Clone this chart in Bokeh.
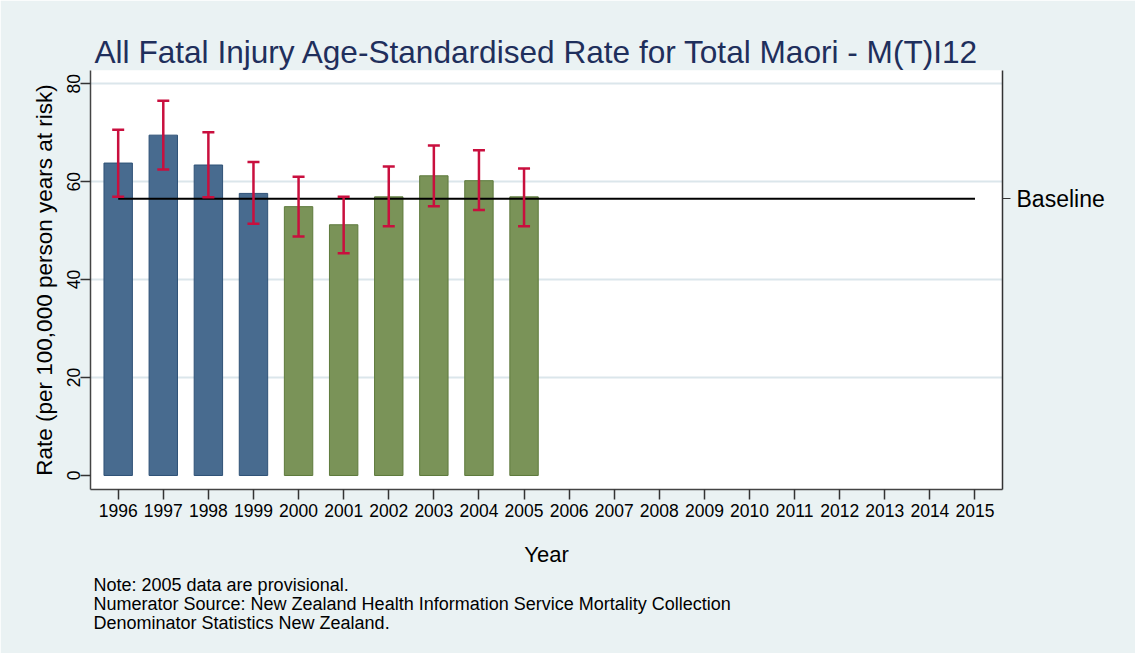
from bokeh.plotting import figure
from bokeh.models import (ColumnDataSource, Whisker, TeeHead, FixedTicker, LinearAxis,
                          Range1d, Title)
from bokeh.embed import file_html
from bokeh.resources import INLINE

# ---- data ----
years = [1996, 1997, 1998, 1999, 2000, 2001, 2002, 2003, 2004, 2005]
rates = [63.8, 69.5, 63.4, 57.6, 54.9, 51.2, 56.9, 61.2, 60.2, 56.9]
lower_ci = [56.9, 62.5, 56.8, 51.4, 48.8, 45.4, 50.9, 55.0, 54.2, 50.9]
upper_ci = [70.6, 76.5, 70.1, 64.0, 61.0, 56.9, 63.1, 67.4, 66.4, 62.7]
period = ["pre", "pre", "pre", "pre", "post", "post", "post", "post", "post", "post"]
baseline_value = 56.5
baseline_years = [1996, 2015]
axis_years = list(range(1996, 2016))
x_tick_labels = [str(y) for y in axis_years]
y_ticks = [0, 20, 40, 60, 80]

FONT = "Liberation Sans"
fill_map = {"pre": "#486b8f", "post": "#7a9358"}
line_map = {"pre": "#2f5277", "post": "#5e7a3c"}

src = ColumnDataSource(dict(
    year=years, rate=rates, lower=lower_ci, upper=upper_ci,
    fill=[fill_map[p_] for p_ in period], line=[line_map[p_] for p_ in period]))

p = figure(width=1135, height=653, output_backend="svg", toolbar_location=None,
           x_range=Range1d(1995.386, 2015.61), y_range=Range1d(-2.86, 82.7),
           min_border_left=90, min_border_right=133, min_border_top=70,
           min_border_bottom=164)
p.background_fill_color = "white"
p.border_fill_color = "#EAF2F3"
p.outline_line_color = None

# title
p.title.text = "All Fatal Injury Age-Standardised Rate for Total Maori - M(T)I12"
p.title.text_font = FONT
p.title.text_font_size = "31.6px"
p.title.text_font_style = "normal"
p.title.text_color = "#1f2f5c"
p.title.align = "left"
p.title.offset = 4
p.title.standoff = 2

# bars
p.vbar(x="year", top="rate", bottom=0, width=0.63, source=src,
       fill_color="fill", line_color="line", line_width=1)

# baseline
p.line(baseline_years, [baseline_value] * len(baseline_years), line_color="black", line_width=2)

# error bars
head_kw = dict(size=12, line_color="#c90f3e", line_width=2.5)
wh = Whisker(base="year", upper="upper", lower="lower", source=src,
             line_color="#c90f3e", line_width=2.5,
             upper_head=TeeHead(**head_kw), lower_head=TeeHead(**head_kw),
             level="annotation")
p.add_layout(wh)

# grid
p.xgrid.visible = False
p.ygrid.ticker = FixedTicker(ticks=[20, 40, 60, 80])
p.ygrid.grid_line_color = "#dbe6eb"
p.ygrid.grid_line_width = 2

# x axis
xa = p.xaxis[0]
xa.ticker = FixedTicker(ticks=axis_years)
xa.major_label_overrides = {y: lab for y, lab in zip(axis_years, x_tick_labels)}
xa.axis_label = "Year"
xa.axis_label_text_font = FONT
xa.axis_label_text_font_size = "22px"
xa.axis_label_text_font_style = "normal"
xa.axis_label_text_color = "black"
xa.axis_label_standoff = 22
xa.major_label_text_font = FONT
xa.major_label_text_font_size = "17.5px"
xa.major_label_text_color = "black"
xa.major_label_standoff = 4
xa.major_tick_out = 10
xa.major_tick_in = 0
xa.minor_tick_out = 0
xa.minor_tick_in = 0
xa.axis_line_color = "#444444"
xa.axis_line_width = 1.5
xa.major_tick_line_color = "#333333"
xa.major_tick_line_width = 1.5

# y axis
ya = p.yaxis[0]
ya.ticker = FixedTicker(ticks=y_ticks)
ya.axis_label = "Rate (per 100,000 person years at risk)"
ya.axis_label_text_font = FONT
ya.axis_label_text_font_size = "22.5px"
ya.axis_label_text_font_style = "normal"
ya.axis_label_text_color = "black"
ya.axis_label_standoff = 8
ya.major_label_orientation = "vertical"
ya.major_label_text_font = FONT
ya.major_label_text_font_size = "17.5px"
ya.major_label_text_color = "black"
ya.major_label_standoff = 0
ya.major_tick_out = 10
ya.major_tick_in = 0
ya.minor_tick_out = 0
ya.minor_tick_in = 0
ya.axis_line_color = "#444444"
ya.axis_line_width = 1.5
ya.major_tick_line_color = "#333333"
ya.major_tick_line_width = 1.5

# right axis with baseline label
ra = LinearAxis(ticker=FixedTicker(ticks=[baseline_value]),
                major_label_overrides={baseline_value: "Baseline"})
ra.major_label_text_font = FONT
ra.major_label_text_font_size = "23px"
ra.major_label_text_color = "black"
ra.major_label_standoff = 6
ra.major_tick_out = 8
ra.major_tick_in = 0
ra.minor_tick_out = 0
ra.minor_tick_in = 0
ra.axis_line_color = "#333333"
ra.axis_line_width = 1.5
ra.major_tick_line_color = "#333333"
p.add_layout(ra, "right")

# notes
notes = ("Note: 2005 data are provisional.\n"
         "Numerator Source: New Zealand Health Information Service Mortality Collection\n"
         "Denominator Statistics New Zealand.")
nt = Title(text=notes, align="left", text_font=FONT, text_font_size="18px",
           text_font_style="normal", text_color="black", offset=3, standoff=6,
           text_line_height=0.95)
p.add_layout(nt, "below")

open("out.html", "w").write(file_html(p, INLINE))
